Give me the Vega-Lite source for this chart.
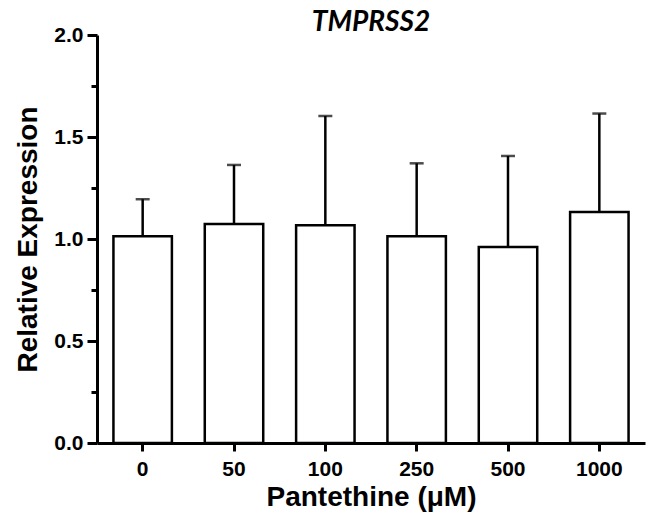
{
  "$schema": "https://vega.github.io/schema/vega-lite/v6.json",
  "width": 548,
  "height": 408,
  "autosize": {"type": "none"},
  "padding": {"left": 97, "top": 35, "right": 5, "bottom": 74},
  "background": "white",
  "title": {
    "text": "TMPRSS2",
    "font": "Lato",
    "fontSize": 28,
    "fontStyle": "italic",
    "fontWeight": "bold",
    "color": "black",
    "anchor": "middle",
    "offset": -13
  },
  "config": {
    "view": {"stroke": null},
    "axis": {
      "labelFont": "Liberation Sans",
      "labelFontWeight": "bold",
      "labelFontSize": 21,
      "labelColor": "black",
      "titleFont": "Liberation Sans",
      "titleFontWeight": "bold",
      "titleFontSize": 28,
      "titleColor": "black",
      "domainColor": "black",
      "domainWidth": 3,
      "tickColor": "black",
      "tickWidth": 3,
      "grid": false
    }
  },
  "data": {
    "values": [
      {"dose": "0", "mean": 1.013, "upper": 1.195},
      {"dose": "50", "mean": 1.073, "upper": 1.363},
      {"dose": "100", "mean": 1.068, "upper": 1.603},
      {"dose": "250", "mean": 1.013, "upper": 1.371},
      {"dose": "500", "mean": 0.961, "upper": 1.407},
      {"dose": "1000", "mean": 1.132, "upper": 1.615}
    ]
  },
  "encoding": {
    "x": {
      "field": "dose",
      "type": "nominal",
      "sort": ["0", "50", "100", "250", "500", "1000"],
      "scale": {"paddingInner": 0.36, "paddingOuter": 0.18},
      "axis": {
        "title": "Pantethine (μM)",
        "labelAngle": 0,
        "tickSize": 8,
        "labelPadding": 7,
        "titlePadding": 4
      }
    }
  },
  "layer": [
    {
      "mark": {"type": "bar", "fill": "white", "stroke": "black", "strokeWidth": 2.5},
      "encoding": {
        "y": {
          "field": "mean",
          "type": "quantitative",
          "scale": {"domain": [0, 2], "nice": false},
          "axis": {
            "orient": "left",
            "title": "Relative Expression",
            "values": [0, 0.25, 0.5, 0.75, 1, 1.25, 1.5, 1.75, 2],
            "labelExpr": "datum.value % 0.5 === 0 ? format(datum.value, '.1f') : ''",
            "tickSize": {"condition": {"test": "datum.value % 0.5 === 0", "value": 10}, "value": 6},
            "labelPadding": 4,
            "titlePadding": 11
          }
        }
      }
    },
    {
      "mark": {"type": "rule", "color": "black", "strokeWidth": 2.5},
      "encoding": {
        "y": {"field": "mean", "type": "quantitative"},
        "y2": {"field": "upper"}
      }
    },
    {
      "mark": {"type": "tick", "color": "black", "size": 14, "thickness": 2.5, "orient": "horizontal"},
      "encoding": {
        "y": {"field": "upper", "type": "quantitative"}
      }
    }
  ]
}
